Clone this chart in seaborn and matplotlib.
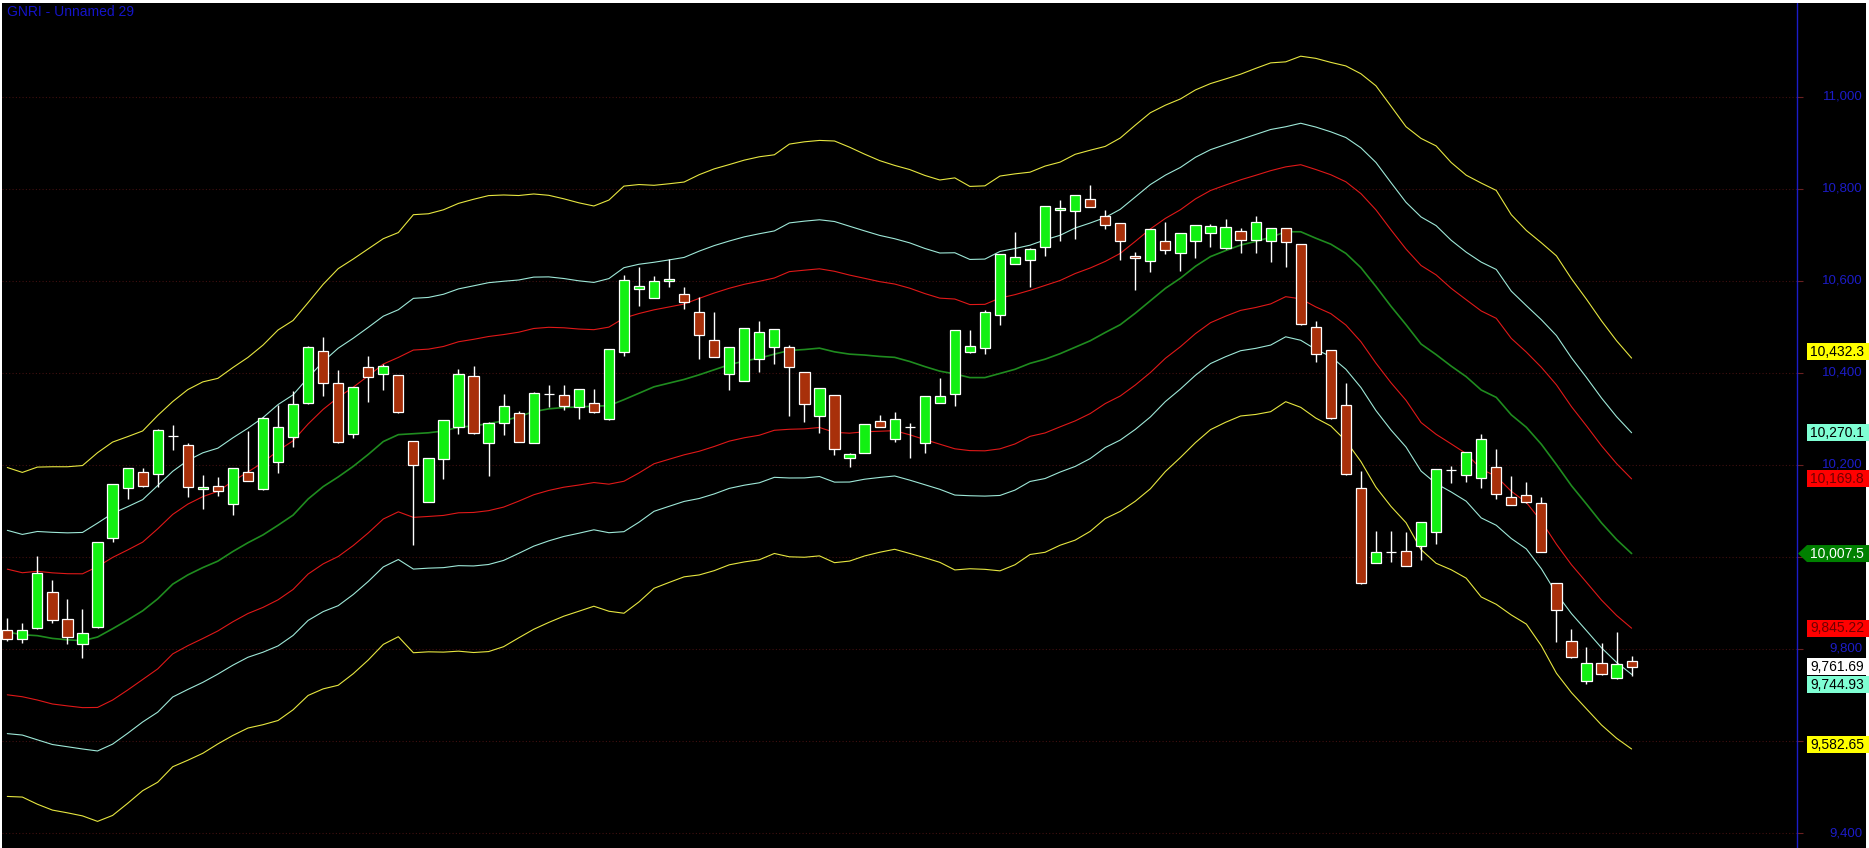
import numpy as np
import pandas as pd
import matplotlib
matplotlib.use("Agg")
import matplotlib.pyplot as plt
import seaborn as sns
from matplotlib.patches import Rectangle, Polygon

# --- Candle data ---
opens = [9841, 9821, 9845, 9923, 9865, 9810, 9847, 10042, 10149, 10184,
         10180, 10264, 10244, 10147, 10155, 10115, 10184, 10147, 10207, 10260,
         10334, 10448, 10378, 10267, 10412, 10397, 10396, 10252, 10120, 10214,
         10282, 10394, 10247, 10292, 10312, 10247, 10354, 10352, 10327, 10334,
         10299, 10445, 10582, 10562, 10599, 10571, 10532, 10471, 10397, 10383,
         10430, 10456, 10456, 10402, 10307, 10352, 10215, 10225, 10296, 10256,
         10282, 10247, 10334, 10354, 10445, 10454, 10526, 10637, 10646, 10673,
         10754, 10752, 10778, 10742, 10725, 10655, 10644, 10687, 10660, 10687,
         10704, 10671, 10709, 10689, 10687, 10715, 10680, 10501, 10449, 10331,
         10149, 9988, 10010, 10013, 10024, 10054, 10189, 10178, 10171, 10196,
         10131, 10135, 10117, 9943, 9817, 9731, 9769, 9736, 9773]
highs = [9867, 9857, 10002, 9950, 9909, 9887, 10032, 10159, 10193, 10193,
         10278, 10287, 10247, 10178, 10173, 10193, 10273, 10304, 10331, 10360,
         10458, 10478, 10407, 10369, 10436, 10420, 10396, 10252, 10215, 10297,
         10408, 10415, 10293, 10354, 10318, 10358, 10373, 10373, 10365, 10365,
         10452, 10613, 10630, 10610, 10647, 10586, 10566, 10532, 10456, 10498,
         10513, 10496, 10461, 10402, 10367, 10352, 10227, 10289, 10309, 10316,
         10291, 10349, 10389, 10494, 10494, 10536, 10659, 10706, 10671, 10762,
         10776, 10786, 10809, 10754, 10726, 10662, 10713, 10728, 10704, 10722,
         10723, 10735, 10715, 10741, 10716, 10716, 10681, 10512, 10449, 10378,
         10188, 10057, 10057, 10054, 10077, 10191, 10198, 10229, 10267, 10234,
         10176, 10163, 10130, 9943, 9843, 9805, 9812, 9838, 9785]
lows = [9818, 9812, 9843, 9856, 9810, 9781, 9845, 10032, 10125, 10153,
        10153, 10233, 10130, 10104, 10133, 10091, 10165, 10146, 10183, 10240,
        10333, 10349, 10247, 10258, 10338, 10362, 10314, 10026, 10119, 10169,
        10267, 10267, 10176, 10265, 10250, 10247, 10327, 10320, 10300, 10312,
        10298, 10438, 10546, 10562, 10586, 10539, 10431, 10434, 10363, 10383,
        10403, 10420, 10307, 10294, 10270, 10222, 10196, 10225, 10283, 10249,
        10215, 10227, 10334, 10329, 10444, 10441, 10504, 10636, 10586, 10655,
        10686, 10691, 10760, 10712, 10646, 10581, 10619, 10658, 10622, 10649,
        10673, 10670, 10660, 10660, 10642, 10631, 10505, 10423, 10300, 10179,
        9941, 9987, 9990, 9980, 9994, 10028, 10160, 10164, 10149, 10125,
        10113, 10118, 10010, 9816, 9780, 9723, 9744, 9735, 9742]
closes = [9821, 9841, 9965, 9862, 9825, 9834, 10032, 10158, 10193, 10154,
          10276, 10264, 10153, 10153, 10144, 10193, 10165, 10302, 10282, 10332,
          10457, 10378, 10251, 10369, 10391, 10415, 10315, 10199, 10215, 10297,
          10398, 10269, 10292, 10328, 10251, 10356, 10354, 10329, 10365, 10316,
          10452, 10602, 10589, 10599, 10604, 10555, 10482, 10434, 10456, 10497,
          10489, 10495, 10412, 10332, 10367, 10234, 10224, 10289, 10283, 10299,
          10282, 10349, 10351, 10494, 10459, 10533, 10658, 10653, 10670, 10762,
          10759, 10786, 10760, 10721, 10687, 10649, 10712, 10667, 10704, 10721,
          10719, 10718, 10689, 10728, 10715, 10684, 10507, 10441, 10302, 10180,
          9943, 10010, 10010, 9981, 10077, 10191, 10189, 10228, 10256, 10137,
          10113, 10119, 10010, 9885, 9782, 9769, 9745, 9767, 9761.69]

# --- Fibonacci band inputs: middle line and band unit per bar ---
mid_line = [9837, 9831, 9829, 9823, 9820, 9818, 9826, 9844, 9863, 9883,
            9909, 9941, 9961, 9977, 9991, 10012, 10031, 10048, 10069, 10091,
            10126, 10153, 10174, 10197, 10223, 10251, 10266, 10268, 10270, 10274,
            10282, 10285, 10290, 10296, 10305, 10316, 10322, 10325, 10326, 10328,
            10329, 10342, 10356, 10370, 10378, 10386, 10396, 10407, 10418, 10426,
            10432, 10441, 10449, 10451, 10454, 10446, 10441, 10439, 10436, 10434,
            10425, 10414, 10404, 10398, 10390, 10390, 10399, 10408, 10421, 10430,
            10442, 10456, 10470, 10488, 10505, 10530, 10557, 10584, 10606, 10632,
            10653, 10666, 10678, 10686, 10695, 10707, 10707, 10693, 10680, 10660,
            10629, 10588, 10545, 10505, 10463, 10440, 10415, 10392, 10363, 10347,
            10309, 10282, 10245, 10201, 10155, 10115, 10074, 10038, 10007.5]
band_unit = [84.4, 83.3, 86.5, 88.1, 88.8, 89.9, 94.6, 95.8, 94.1, 92.3,
             94.1, 93.7, 95.1, 95.3, 93.8, 94.4, 95.1, 97.4, 100.2, 99.9,
             100.8, 103.8, 106.9, 106.4, 105.5, 104.1, 103.7, 112.4, 112.4, 113.5,
             114.9, 116.3, 117.0, 115.9, 113.5, 111.7, 109.6, 107.1, 104.8, 102.7,
             105.5, 109.6, 107.1, 103.4, 102.3, 101.3, 102.7, 103.1, 102.7, 103.1,
             103.4, 102.3, 105.9, 106.6, 106.6, 108.2, 106.2, 103.1, 100.5, 98.5,
             98.5, 98.1, 98.1, 100.6, 98.1, 98.4, 101.3, 100.3, 98.1, 99.1,
             98.3, 99.0, 97.8, 95.5, 95.8, 96.5, 96.5, 94.0, 92.0, 90.5,
             88.8, 88.1, 87.7, 88.8, 89.5, 87.2, 90.1, 92.3, 93.3, 96.2,
             99.5, 103.0, 102.7, 101.6, 105.5, 107.1, 104.5, 103.4, 106.2, 106.2,
             102.7, 101.0, 103.4, 107.1, 106.2, 105.1, 103.7, 102.0, 100.3]
fib_mult = [1.618, 2.618, 4.236]
band_colors = ['#e01818', '#9ee8d8', '#e6e640']

# --- Price scale ---
y_grid = [9400, 9600, 9800, 10000, 10200, 10400, 10600, 10800, 11000]
y_labels = [9400, 9600, 9800, 10200, 10400, 10600, 10800, 11000]  # 10,000 sits under the green tag
tag_text = ['10,432.3', '10,270.1', '10,169.8', '10,007.5', '9,845.22', '9,761.69', '9,744.93', '9,582.65']
tag_values = [10432.3, 10270.1, 10169.8, 10007.5, 9845.22, 9761.69, 9744.93, 9582.65]
tag_shift = [14, 0, 0, 0, 0, 0, -23, 9]   # nudges so the boxes do not overlap
tag_bg = ['#ffff00', '#7fffd4', '#ff0000', '#008000', '#ff0000', '#ffffff', '#7fffd4', '#ffff00']
tag_fg = ['black', 'black', '#700000', 'white', '#700000', 'black', 'black', 'black']

sns.set_theme(style='dark', rc={'axes.facecolor': 'black', 'figure.facecolor': 'white'})
plt.rcParams['font.family'] = ['Liberation Sans', 'DejaVu Sans']

W, H = 1869, 848
fig = plt.figure(figsize=(W / 100, H / 100), dpi=100)
ax = fig.add_axes([2 / W, 0, 1864 / W, 845 / H])
ax.set_facecolor('black')

# bar i sits at pixel 7.3 + 15.04*i; price axis line at pixel 1797
step, x0 = 15.04, 7.3
x_left, x_right = (2 - x0) / step, (1866 - x0) / step
x_axis = (1797 - x0) / step
ax.set_xlim(x_left, x_right)
ax.set_ylim(9367.4, 11204.3)

def px(p):
    # pixel column -> axes fraction
    return (p - 2) / 1864

idx = np.arange(len(closes))
o = np.array(opens); c = np.array(closes)
mid = np.array(mid_line); unit = np.array(band_unit)

# grid
ax.hlines(y_grid, x_left, x_axis, colors='#401010', linestyles=(0, (1, 2)), lw=0.8, zorder=1)
ax.hlines(y_grid, x_axis, x_axis + 0.42, colors='#6a2020', lw=0.8, zorder=1)
ax.axvline(x_axis, color='#1c1cc8', lw=1.0, zorder=1)

# bands
for m, col in zip(fib_mult, band_colors):
    sns.lineplot(x=idx, y=mid + m * unit, color=col, lw=0.8, ax=ax, zorder=2)
    sns.lineplot(x=idx, y=mid - m * unit, color=col, lw=0.8, ax=ax, zorder=2)
sns.lineplot(x=idx, y=mid, color='#1f8c1f', lw=1.2, ax=ax, zorder=2)

# candles
body_col = np.where(c >= o, '#12f012', '#a8300a')
ax.vlines(idx, lows, highs, colors='white', lw=1.0, zorder=3)
ax.bar(idx, np.abs(c - o), bottom=np.minimum(o, c), width=0.68, color=body_col,
       edgecolor='white', linewidth=0.9, zorder=4)

# price labels
yt = ax.get_yaxis_transform()
for v in y_labels:
    ax.text(px(1863), v, f'{v:,}', transform=yt, ha='right', va='center',
            color='#1c1cc8', fontsize=9.5, zorder=5)

# value tags on the price scale
half = 8.5 / 0.46
for txt, v, dv, bg, fg in zip(tag_text, tag_values, tag_shift, tag_bg, tag_fg):
    yc = v + dv
    if bg == '#008000':
        shape = Polygon([(px(1798), yc), (px(1807), yc + half), (px(1870), yc + half),
                         (px(1870), yc - half), (px(1807), yc - half)],
                        closed=True, transform=yt, facecolor=bg, edgecolor='none', zorder=6, clip_on=False)
    else:
        shape = Rectangle((px(1807), yc - half), px(1870) - px(1807), 2 * half,
                          transform=yt, facecolor=bg, edgecolor='none', zorder=6, clip_on=False)
    ax.add_patch(shape)
    ax.text(px(1810), yc, txt, transform=yt, ha='left', va='center',
            color=fg, fontsize=10, zorder=7)

ax.set_xticks([]); ax.set_yticks([])
ax.set_xlabel(''); ax.set_ylabel('')
for s in ax.spines.values():
    s.set_visible(False)

fig.text(7 / W, 1 - 11.5 / H, 'GNRI - Unnamed 29', color='#1414c8', fontsize=10,
         ha='left', va='center')

fig.savefig('out.png', dpi=100, facecolor='white')
